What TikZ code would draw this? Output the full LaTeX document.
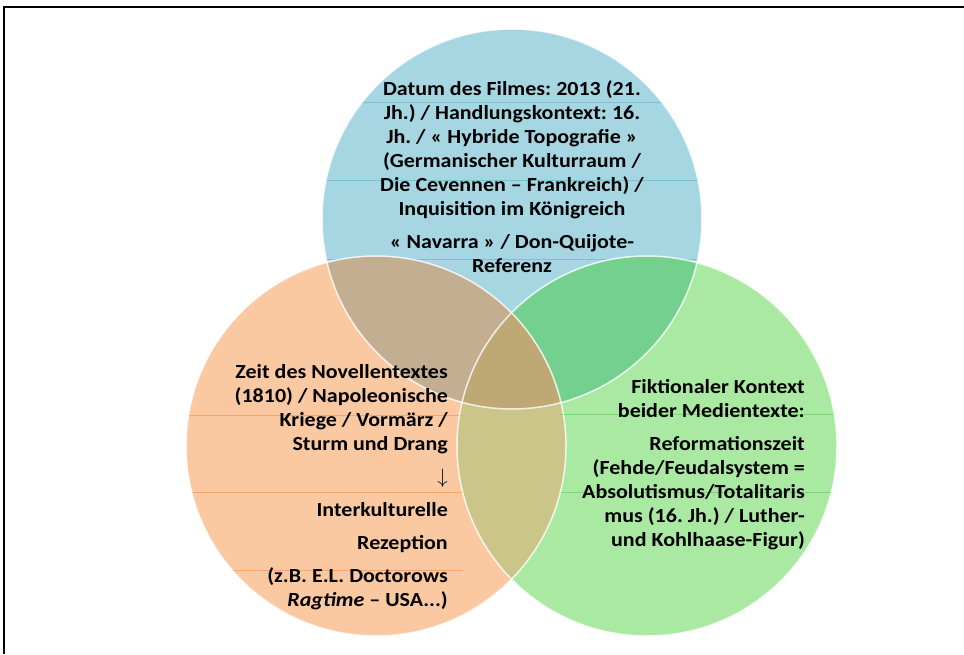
\documentclass[tikz,border=0pt]{standalone}
\usepackage{fontspec}
\setmainfont{Carlito}[FakeStretch=1.1]
\frenchspacing
\definecolor{filmblue}{HTML}{A7D6E3}
\definecolor{novelleorange}{HTML}{FAC9A2}
\definecolor{fiktiongreen}{HTML}{AAE9A2}
\definecolor{blueorange}{HTML}{C4AE92}
\definecolor{bluegreen}{HTML}{74D08E}
\definecolor{orangegreen}{HTML}{CBC58A}
\definecolor{allthree}{HTML}{BEA974}
\definecolor{blueline}{HTML}{7CC2D6}
\definecolor{orangeline}{HTML}{F4A76C}
\definecolor{greenline}{HTML}{7ED776}
\tikzset{
  venntext/.style={inner sep=0pt,font=\fontsize{20}{24}\selectfont\bfseries},
  ruleline/.style={line width=0.8pt},
  rim/.style={draw=white,line width=1.5pt,opacity=0.8}
}

\begin{document}
\begin{tikzpicture}[x=1pt,y=-1pt]
\useasboundingbox (0,0) rectangle (964,654);
\coordinate (film) at (512,219);
\coordinate (novelle) at (376,446);
\coordinate (fiktion) at (647,446);
\fill[filmblue] (film) circle (190);
\fill[novelleorange] (novelle) circle (190);
\fill[fiktiongreen] (fiktion) circle (190);
\begin{scope}
\clip (novelle) circle (190);
\fill[orangegreen] (fiktion) circle (190);
\end{scope}
\begin{scope}
\clip (film) circle (190);
\fill[blueorange] (novelle) circle (190);
\fill[bluegreen] (fiktion) circle (190);
\clip (novelle) circle (190);
\fill[allthree] (fiktion) circle (190);
\end{scope}
% ruled lines of the page
\begin{scope}
\clip (film) circle (190);
\foreach \y in {102,180,259} \draw[ruleline,blueline] (300,\y) -- (720,\y);
\end{scope}
\begin{scope}
\clip (novelle) circle (190);
\foreach \y in {415,492,570} \draw[ruleline,orangeline] (180,\y) -- (463,\y);
\end{scope}
\begin{scope}
\clip (fiktion) circle (190);
\foreach \y in {414,492} \draw[ruleline,greenline] (560,\y) -- (845,\y);
\end{scope}
\draw[rim] (film) circle (190);
\draw[rim] (novelle) circle (190);
\draw[rim] (fiktion) circle (190);
\node[venntext,align=center,anchor=north] (filmtext) at (512,80) {Datum des Filmes: 2013 (21.\\
Jh.) / Handlungskontext: 16.\\
Jh. / « Hybride Topografie »\\
(Germanischer Kulturraum /\\
Die Cevennen – Frankreich) /\\
Inquisition im Königreich\\[9pt]
« Navarra » / Don-Quijote-\\
Referenz};
\node[venntext,align=right,anchor=north east] (novelletext) at (448,364) {Zeit des Novellentextes\\
(1810) / Napoleonische\\
Kriege / Vormärz /\\
Sturm und Drang\\[9pt]
$\downarrow$\\[9pt]
Interkulturelle\\[9pt]
Rezeption\\[9pt]
(z.B. E.L. Doctorows\\
\textit{Ragtime} – USA...)};
\node[venntext,align=right,anchor=north east] (fiktiontext) at (805,379) {Fiktionaler Kontext\\
beider Medientexte:\\[9pt]
Reformationszeit\\
(Fehde/Feudalsystem =\\
Absolutismus/Totalitaris\\
mus (16. Jh.) / Luther-\\
und Kohlhaase-Figur)};
\draw[line width=2pt] (4,654) -- (4,7) -- (964,7);
\end{tikzpicture}
\end{document}
